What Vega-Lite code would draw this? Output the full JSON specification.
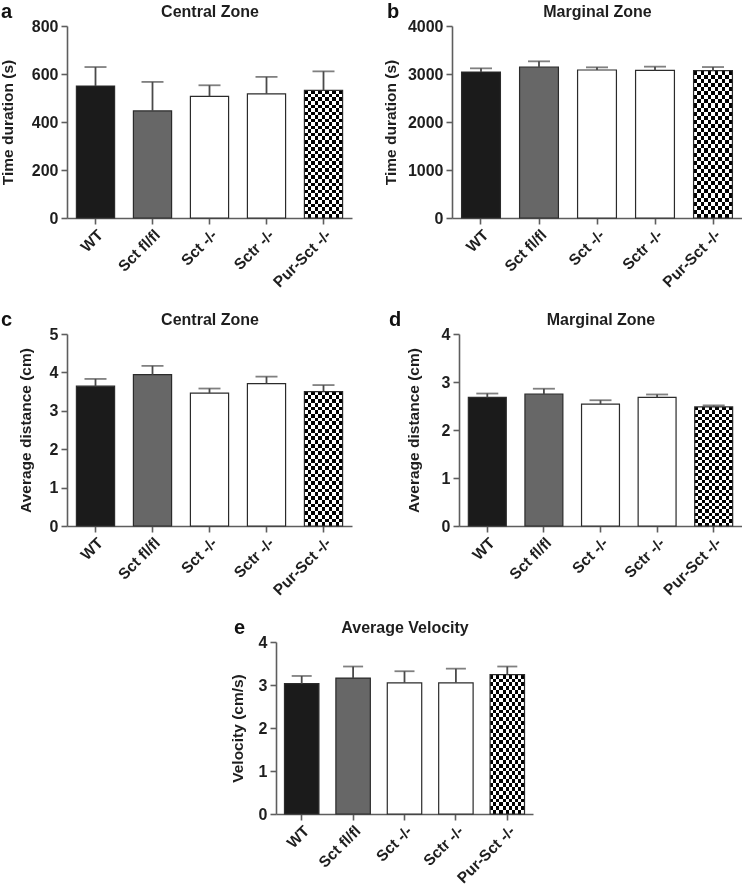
{
"$schema": "https://vega.github.io/schema/vega-lite/v6.json",
"background": "white",
"padding": {"left": 0, "top": 2, "right": 0, "bottom": 0},
"datasets": {
"a": [{"group":"WT","mean":550,"upper":629},{"group":"Sct fl/fl","mean":446,"upper":567},{"group":"Sct -/-","mean":507,"upper":553},{"group":"Sctr -/-","mean":517,"upper":588},{"group":"Pur-Sct -/-","mean":532,"upper":611}],
"b": [{"group":"WT","mean":3042,"upper":3118},{"group":"Sct fl/fl","mean":3146,"upper":3264},{"group":"Sct -/-","mean":3083,"upper":3139},{"group":"Sctr -/-","mean":3076,"upper":3153},{"group":"Pur-Sct -/-","mean":3069,"upper":3145}],
"c": [{"group":"WT","mean":3.64,"upper":3.83},{"group":"Sct fl/fl","mean":3.94,"upper":4.17},{"group":"Sct -/-","mean":3.46,"upper":3.58},{"group":"Sctr -/-","mean":3.71,"upper":3.89},{"group":"Pur-Sct -/-","mean":3.50,"upper":3.67}],
"d": [{"group":"WT","mean":2.68,"upper":2.76},{"group":"Sct fl/fl","mean":2.75,"upper":2.86},{"group":"Sct -/-","mean":2.54,"upper":2.62},{"group":"Sctr -/-","mean":2.68,"upper":2.74},{"group":"Pur-Sct -/-","mean":2.48,"upper":2.51}],
"e": [{"group":"WT","mean":3.03,"upper":3.21},{"group":"Sct fl/fl","mean":3.16,"upper":3.43},{"group":"Sct -/-","mean":3.05,"upper":3.32},{"group":"Sctr -/-","mean":3.05,"upper":3.38},{"group":"Pur-Sct -/-","mean":3.24,"upper":3.43}]
},
"spacing": 19,
"center": true,
"vconcat": [
{"spacing": 31, "hconcat": [
{
 "width": 285, "height": 192,
 "data": {"name": "a"},
 "title": {"text": "a", "dx": -66, "dy": 23},
 "encoding": {"x": {"field":"group","type":"nominal","scale":{"domain":["WT","Sct fl/fl","Sct -/-","Sctr -/-","Pur-Sct -/-"],"paddingInner":0.33,"paddingOuter":0.165},"axis":null}},
 "layer": [
  {"transform":[{"filter":"datum.group === 'Pur-Sct -/-'"}],"mark":{"type":"bar","stroke":null,"fill":{"gradient":"linear","x1":0,"y1":0,"x2":1,"y2":0,"stops":[{"offset":0,"color":"#000"},{"offset":0.0909,"color":"#000"},{"offset":0.0909,"color":"#fff"},{"offset":0.1818,"color":"#fff"},{"offset":0.1818,"color":"#000"},{"offset":0.2727,"color":"#000"},{"offset":0.2727,"color":"#fff"},{"offset":0.3636,"color":"#fff"},{"offset":0.3636,"color":"#000"},{"offset":0.4545,"color":"#000"},{"offset":0.4545,"color":"#fff"},{"offset":0.5455,"color":"#fff"},{"offset":0.5455,"color":"#000"},{"offset":0.6364,"color":"#000"},{"offset":0.6364,"color":"#fff"},{"offset":0.7273,"color":"#fff"},{"offset":0.7273,"color":"#000"},{"offset":0.8182,"color":"#000"},{"offset":0.8182,"color":"#fff"},{"offset":0.9091,"color":"#fff"},{"offset":0.9091,"color":"#000"},{"offset":1,"color":"#000"}]}},
   "encoding":{"y":{"field":"mean","type":"quantitative","scale":{"domain":[0,800],"nice":false},"axis":null}}},
  {"transform":[{"filter":"datum.group === 'Pur-Sct -/-'"}],"mark":{"type":"bar","stroke":null,"blend":"difference","fill":{"gradient":"linear","x1":0,"y1":0,"x2":0,"y2":1,"stops":[{"offset":0,"color":"#000"},{"offset":0.02778,"color":"#000"},{"offset":0.02778,"color":"#fff"},{"offset":0.05556,"color":"#fff"},{"offset":0.05556,"color":"#000"},{"offset":0.08333,"color":"#000"},{"offset":0.08333,"color":"#fff"},{"offset":0.11111,"color":"#fff"},{"offset":0.11111,"color":"#000"},{"offset":0.13889,"color":"#000"},{"offset":0.13889,"color":"#fff"},{"offset":0.16667,"color":"#fff"},{"offset":0.16667,"color":"#000"},{"offset":0.19444,"color":"#000"},{"offset":0.19444,"color":"#fff"},{"offset":0.22222,"color":"#fff"},{"offset":0.22222,"color":"#000"},{"offset":0.25,"color":"#000"},{"offset":0.25,"color":"#fff"},{"offset":0.27778,"color":"#fff"},{"offset":0.27778,"color":"#000"},{"offset":0.30556,"color":"#000"},{"offset":0.30556,"color":"#fff"},{"offset":0.33333,"color":"#fff"},{"offset":0.33333,"color":"#000"},{"offset":0.36111,"color":"#000"},{"offset":0.36111,"color":"#fff"},{"offset":0.38889,"color":"#fff"},{"offset":0.38889,"color":"#000"},{"offset":0.41667,"color":"#000"},{"offset":0.41667,"color":"#fff"},{"offset":0.44444,"color":"#fff"},{"offset":0.44444,"color":"#000"},{"offset":0.47222,"color":"#000"},{"offset":0.47222,"color":"#fff"},{"offset":0.5,"color":"#fff"},{"offset":0.5,"color":"#000"},{"offset":0.52778,"color":"#000"},{"offset":0.52778,"color":"#fff"},{"offset":0.55556,"color":"#fff"},{"offset":0.55556,"color":"#000"},{"offset":0.58333,"color":"#000"},{"offset":0.58333,"color":"#fff"},{"offset":0.61111,"color":"#fff"},{"offset":0.61111,"color":"#000"},{"offset":0.63889,"color":"#000"},{"offset":0.63889,"color":"#fff"},{"offset":0.66667,"color":"#fff"},{"offset":0.66667,"color":"#000"},{"offset":0.69444,"color":"#000"},{"offset":0.69444,"color":"#fff"},{"offset":0.72222,"color":"#fff"},{"offset":0.72222,"color":"#000"},{"offset":0.75,"color":"#000"},{"offset":0.75,"color":"#fff"},{"offset":0.77778,"color":"#fff"},{"offset":0.77778,"color":"#000"},{"offset":0.80556,"color":"#000"},{"offset":0.80556,"color":"#fff"},{"offset":0.83333,"color":"#fff"},{"offset":0.83333,"color":"#000"},{"offset":0.86111,"color":"#000"},{"offset":0.86111,"color":"#fff"},{"offset":0.88889,"color":"#fff"},{"offset":0.88889,"color":"#000"},{"offset":0.91667,"color":"#000"},{"offset":0.91667,"color":"#fff"},{"offset":0.94444,"color":"#fff"},{"offset":0.94444,"color":"#000"},{"offset":0.97222,"color":"#000"},{"offset":0.97222,"color":"#fff"},{"offset":1,"color":"#fff"}]}},
   "encoding":{"y":{"field":"mean","type":"quantitative","scale":{"domain":[0,800],"nice":false},"axis":null}}},
  {"mark":{"type":"bar","stroke":"#2b2b2b","strokeWidth":1.2},"encoding":{
    "x":{"field":"group","type":"nominal","scale":{"domain":["WT","Sct fl/fl","Sct -/-","Sctr -/-","Pur-Sct -/-"],"paddingInner":0.33,"paddingOuter":0.165},"axis":{"title":null,"labelAngle":-45,"labelAlign":"right","labelBaseline":"top","labelPadding":3,"labelFontSize":15.5}},
    "y":{"field":"mean","type":"quantitative","scale":{"domain":[0,800],"nice":false},"axis":{"title":"Time duration (s)","values":[0,200,400,600,800],"titlePadding":16,"labelFlush":false,"format":"d"}},
    "fill":{"field":"group","type":"nominal","scale":{"domain":["WT","Sct fl/fl","Sct -/-","Sctr -/-","Pur-Sct -/-"],"range":["#1b1b1b","#676767","#ffffff","#ffffff","transparent"]},"legend":null}}},
  {"mark":{"type":"rule","color":"#4a4a4a","strokeWidth":1.8},"encoding":{"y":{"field":"mean","type":"quantitative","scale":{"domain":[0,800],"nice":false},"axis":null},"y2":{"field":"upper"}}},
  {"mark":{"type":"tick","color":"#4a4a4a","thickness":1.8,"size":22},"encoding":{
    "x":{"field":"group","type":"nominal","scale":{"domain":["WT","Sct fl/fl","Sct -/-","Sctr -/-","Pur-Sct -/-"],"paddingInner":0.33,"paddingOuter":0.165},"axis":{"orient":"top","title":"Central Zone","domain":false,"ticks":false,"labels":false,"titlePadding":10,"titleFontSize":16,"titleBaseline":"alphabetic","minExtent":0,"maxExtent":0}},
    "y":{"field":"upper","type":"quantitative","scale":{"domain":[0,800],"nice":false},"axis":null}}}
 ],
 "resolve":{"axis":{"x":"independent","y":"independent"}}
},
{
 "width": 290, "height": 192,
 "data": {"name": "b"},
 "title": {"text": "b", "dx": -65, "dy": 23},
 "encoding": {"x": {"field":"group","type":"nominal","scale":{"domain":["WT","Sct fl/fl","Sct -/-","Sctr -/-","Pur-Sct -/-"],"paddingInner":0.33,"paddingOuter":0.165},"axis":null}},
 "layer": [
  {"transform":[{"filter":"datum.group === 'Pur-Sct -/-'"}],"mark":{"type":"bar","stroke":null,"fill":{"gradient":"linear","x1":0,"y1":0,"x2":1,"y2":0,"stops":[{"offset":0,"color":"#000"},{"offset":0.0909,"color":"#000"},{"offset":0.0909,"color":"#fff"},{"offset":0.1818,"color":"#fff"},{"offset":0.1818,"color":"#000"},{"offset":0.2727,"color":"#000"},{"offset":0.2727,"color":"#fff"},{"offset":0.3636,"color":"#fff"},{"offset":0.3636,"color":"#000"},{"offset":0.4545,"color":"#000"},{"offset":0.4545,"color":"#fff"},{"offset":0.5455,"color":"#fff"},{"offset":0.5455,"color":"#000"},{"offset":0.6364,"color":"#000"},{"offset":0.6364,"color":"#fff"},{"offset":0.7273,"color":"#fff"},{"offset":0.7273,"color":"#000"},{"offset":0.8182,"color":"#000"},{"offset":0.8182,"color":"#fff"},{"offset":0.9091,"color":"#fff"},{"offset":0.9091,"color":"#000"},{"offset":1,"color":"#000"}]}},
   "encoding":{"y":{"field":"mean","type":"quantitative","scale":{"domain":[0,4000],"nice":false},"axis":null}}},
  {"transform":[{"filter":"datum.group === 'Pur-Sct -/-'"}],"mark":{"type":"bar","stroke":null,"blend":"difference","fill":{"gradient":"linear","x1":0,"y1":0,"x2":0,"y2":1,"stops":[{"offset":0,"color":"#000"},{"offset":0.02778,"color":"#000"},{"offset":0.02778,"color":"#fff"},{"offset":0.05556,"color":"#fff"},{"offset":0.05556,"color":"#000"},{"offset":0.08333,"color":"#000"},{"offset":0.08333,"color":"#fff"},{"offset":0.11111,"color":"#fff"},{"offset":0.11111,"color":"#000"},{"offset":0.13889,"color":"#000"},{"offset":0.13889,"color":"#fff"},{"offset":0.16667,"color":"#fff"},{"offset":0.16667,"color":"#000"},{"offset":0.19444,"color":"#000"},{"offset":0.19444,"color":"#fff"},{"offset":0.22222,"color":"#fff"},{"offset":0.22222,"color":"#000"},{"offset":0.25,"color":"#000"},{"offset":0.25,"color":"#fff"},{"offset":0.27778,"color":"#fff"},{"offset":0.27778,"color":"#000"},{"offset":0.30556,"color":"#000"},{"offset":0.30556,"color":"#fff"},{"offset":0.33333,"color":"#fff"},{"offset":0.33333,"color":"#000"},{"offset":0.36111,"color":"#000"},{"offset":0.36111,"color":"#fff"},{"offset":0.38889,"color":"#fff"},{"offset":0.38889,"color":"#000"},{"offset":0.41667,"color":"#000"},{"offset":0.41667,"color":"#fff"},{"offset":0.44444,"color":"#fff"},{"offset":0.44444,"color":"#000"},{"offset":0.47222,"color":"#000"},{"offset":0.47222,"color":"#fff"},{"offset":0.5,"color":"#fff"},{"offset":0.5,"color":"#000"},{"offset":0.52778,"color":"#000"},{"offset":0.52778,"color":"#fff"},{"offset":0.55556,"color":"#fff"},{"offset":0.55556,"color":"#000"},{"offset":0.58333,"color":"#000"},{"offset":0.58333,"color":"#fff"},{"offset":0.61111,"color":"#fff"},{"offset":0.61111,"color":"#000"},{"offset":0.63889,"color":"#000"},{"offset":0.63889,"color":"#fff"},{"offset":0.66667,"color":"#fff"},{"offset":0.66667,"color":"#000"},{"offset":0.69444,"color":"#000"},{"offset":0.69444,"color":"#fff"},{"offset":0.72222,"color":"#fff"},{"offset":0.72222,"color":"#000"},{"offset":0.75,"color":"#000"},{"offset":0.75,"color":"#fff"},{"offset":0.77778,"color":"#fff"},{"offset":0.77778,"color":"#000"},{"offset":0.80556,"color":"#000"},{"offset":0.80556,"color":"#fff"},{"offset":0.83333,"color":"#fff"},{"offset":0.83333,"color":"#000"},{"offset":0.86111,"color":"#000"},{"offset":0.86111,"color":"#fff"},{"offset":0.88889,"color":"#fff"},{"offset":0.88889,"color":"#000"},{"offset":0.91667,"color":"#000"},{"offset":0.91667,"color":"#fff"},{"offset":0.94444,"color":"#fff"},{"offset":0.94444,"color":"#000"},{"offset":0.97222,"color":"#000"},{"offset":0.97222,"color":"#fff"},{"offset":1,"color":"#fff"}]}},
   "encoding":{"y":{"field":"mean","type":"quantitative","scale":{"domain":[0,4000],"nice":false},"axis":null}}},
  {"mark":{"type":"bar","stroke":"#2b2b2b","strokeWidth":1.2},"encoding":{
    "x":{"field":"group","type":"nominal","scale":{"domain":["WT","Sct fl/fl","Sct -/-","Sctr -/-","Pur-Sct -/-"],"paddingInner":0.33,"paddingOuter":0.165},"axis":{"title":null,"labelAngle":-45,"labelAlign":"right","labelBaseline":"top","labelPadding":3,"labelFontSize":15.5}},
    "y":{"field":"mean","type":"quantitative","scale":{"domain":[0,4000],"nice":false},"axis":{"title":"Time duration (s)","values":[0,1000,2000,3000,4000],"titlePadding":8.5,"labelFlush":false,"format":"d"}},
    "fill":{"field":"group","type":"nominal","scale":{"domain":["WT","Sct fl/fl","Sct -/-","Sctr -/-","Pur-Sct -/-"],"range":["#1b1b1b","#676767","#ffffff","#ffffff","transparent"]},"legend":null}}},
  {"mark":{"type":"rule","color":"#4a4a4a","strokeWidth":1.8},"encoding":{"y":{"field":"mean","type":"quantitative","scale":{"domain":[0,4000],"nice":false},"axis":null},"y2":{"field":"upper"}}},
  {"mark":{"type":"tick","color":"#4a4a4a","thickness":1.8,"size":22},"encoding":{
    "x":{"field":"group","type":"nominal","scale":{"domain":["WT","Sct fl/fl","Sct -/-","Sctr -/-","Pur-Sct -/-"],"paddingInner":0.33,"paddingOuter":0.165},"axis":{"orient":"top","title":"Marginal Zone","domain":false,"ticks":false,"labels":false,"titlePadding":10,"titleFontSize":16,"titleBaseline":"alphabetic","minExtent":0,"maxExtent":0}},
    "y":{"field":"upper","type":"quantitative","scale":{"domain":[0,4000],"nice":false},"axis":null}}}
 ],
 "resolve":{"axis":{"x":"independent","y":"independent"}}
}
]},
{"spacing": 37, "hconcat": [
{
 "width": 285, "height": 192,
 "data": {"name": "c"},
 "title": {"text": "c", "dx": -66, "dy": 23},
 "encoding": {"x": {"field":"group","type":"nominal","scale":{"domain":["WT","Sct fl/fl","Sct -/-","Sctr -/-","Pur-Sct -/-"],"paddingInner":0.33,"paddingOuter":0.165},"axis":null}},
 "layer": [
  {"transform":[{"filter":"datum.group === 'Pur-Sct -/-'"}],"mark":{"type":"bar","stroke":null,"fill":{"gradient":"linear","x1":0,"y1":0,"x2":1,"y2":0,"stops":[{"offset":0,"color":"#000"},{"offset":0.0909,"color":"#000"},{"offset":0.0909,"color":"#fff"},{"offset":0.1818,"color":"#fff"},{"offset":0.1818,"color":"#000"},{"offset":0.2727,"color":"#000"},{"offset":0.2727,"color":"#fff"},{"offset":0.3636,"color":"#fff"},{"offset":0.3636,"color":"#000"},{"offset":0.4545,"color":"#000"},{"offset":0.4545,"color":"#fff"},{"offset":0.5455,"color":"#fff"},{"offset":0.5455,"color":"#000"},{"offset":0.6364,"color":"#000"},{"offset":0.6364,"color":"#fff"},{"offset":0.7273,"color":"#fff"},{"offset":0.7273,"color":"#000"},{"offset":0.8182,"color":"#000"},{"offset":0.8182,"color":"#fff"},{"offset":0.9091,"color":"#fff"},{"offset":0.9091,"color":"#000"},{"offset":1,"color":"#000"}]}},
   "encoding":{"y":{"field":"mean","type":"quantitative","scale":{"domain":[0,5],"nice":false},"axis":null}}},
  {"transform":[{"filter":"datum.group === 'Pur-Sct -/-'"}],"mark":{"type":"bar","stroke":null,"blend":"difference","fill":{"gradient":"linear","x1":0,"y1":0,"x2":0,"y2":1,"stops":[{"offset":0,"color":"#000"},{"offset":0.02778,"color":"#000"},{"offset":0.02778,"color":"#fff"},{"offset":0.05556,"color":"#fff"},{"offset":0.05556,"color":"#000"},{"offset":0.08333,"color":"#000"},{"offset":0.08333,"color":"#fff"},{"offset":0.11111,"color":"#fff"},{"offset":0.11111,"color":"#000"},{"offset":0.13889,"color":"#000"},{"offset":0.13889,"color":"#fff"},{"offset":0.16667,"color":"#fff"},{"offset":0.16667,"color":"#000"},{"offset":0.19444,"color":"#000"},{"offset":0.19444,"color":"#fff"},{"offset":0.22222,"color":"#fff"},{"offset":0.22222,"color":"#000"},{"offset":0.25,"color":"#000"},{"offset":0.25,"color":"#fff"},{"offset":0.27778,"color":"#fff"},{"offset":0.27778,"color":"#000"},{"offset":0.30556,"color":"#000"},{"offset":0.30556,"color":"#fff"},{"offset":0.33333,"color":"#fff"},{"offset":0.33333,"color":"#000"},{"offset":0.36111,"color":"#000"},{"offset":0.36111,"color":"#fff"},{"offset":0.38889,"color":"#fff"},{"offset":0.38889,"color":"#000"},{"offset":0.41667,"color":"#000"},{"offset":0.41667,"color":"#fff"},{"offset":0.44444,"color":"#fff"},{"offset":0.44444,"color":"#000"},{"offset":0.47222,"color":"#000"},{"offset":0.47222,"color":"#fff"},{"offset":0.5,"color":"#fff"},{"offset":0.5,"color":"#000"},{"offset":0.52778,"color":"#000"},{"offset":0.52778,"color":"#fff"},{"offset":0.55556,"color":"#fff"},{"offset":0.55556,"color":"#000"},{"offset":0.58333,"color":"#000"},{"offset":0.58333,"color":"#fff"},{"offset":0.61111,"color":"#fff"},{"offset":0.61111,"color":"#000"},{"offset":0.63889,"color":"#000"},{"offset":0.63889,"color":"#fff"},{"offset":0.66667,"color":"#fff"},{"offset":0.66667,"color":"#000"},{"offset":0.69444,"color":"#000"},{"offset":0.69444,"color":"#fff"},{"offset":0.72222,"color":"#fff"},{"offset":0.72222,"color":"#000"},{"offset":0.75,"color":"#000"},{"offset":0.75,"color":"#fff"},{"offset":0.77778,"color":"#fff"},{"offset":0.77778,"color":"#000"},{"offset":0.80556,"color":"#000"},{"offset":0.80556,"color":"#fff"},{"offset":0.83333,"color":"#fff"},{"offset":0.83333,"color":"#000"},{"offset":0.86111,"color":"#000"},{"offset":0.86111,"color":"#fff"},{"offset":0.88889,"color":"#fff"},{"offset":0.88889,"color":"#000"},{"offset":0.91667,"color":"#000"},{"offset":0.91667,"color":"#fff"},{"offset":0.94444,"color":"#fff"},{"offset":0.94444,"color":"#000"},{"offset":0.97222,"color":"#000"},{"offset":0.97222,"color":"#fff"},{"offset":1,"color":"#fff"}]}},
   "encoding":{"y":{"field":"mean","type":"quantitative","scale":{"domain":[0,5],"nice":false},"axis":null}}},
  {"mark":{"type":"bar","stroke":"#2b2b2b","strokeWidth":1.2},"encoding":{
    "x":{"field":"group","type":"nominal","scale":{"domain":["WT","Sct fl/fl","Sct -/-","Sctr -/-","Pur-Sct -/-"],"paddingInner":0.33,"paddingOuter":0.165},"axis":{"title":null,"labelAngle":-45,"labelAlign":"right","labelBaseline":"top","labelPadding":3,"labelFontSize":15.5}},
    "y":{"field":"mean","type":"quantitative","scale":{"domain":[0,5],"nice":false},"axis":{"title":"Average distance (cm)","values":[0,1,2,3,4,5],"titlePadding":16,"labelFlush":false,"format":"d"}},
    "fill":{"field":"group","type":"nominal","scale":{"domain":["WT","Sct fl/fl","Sct -/-","Sctr -/-","Pur-Sct -/-"],"range":["#1b1b1b","#676767","#ffffff","#ffffff","transparent"]},"legend":null}}},
  {"mark":{"type":"rule","color":"#4a4a4a","strokeWidth":1.8},"encoding":{"y":{"field":"mean","type":"quantitative","scale":{"domain":[0,5],"nice":false},"axis":null},"y2":{"field":"upper"}}},
  {"mark":{"type":"tick","color":"#4a4a4a","thickness":1.8,"size":22},"encoding":{
    "x":{"field":"group","type":"nominal","scale":{"domain":["WT","Sct fl/fl","Sct -/-","Sctr -/-","Pur-Sct -/-"],"paddingInner":0.33,"paddingOuter":0.165},"axis":{"orient":"top","title":"Central Zone","domain":false,"ticks":false,"labels":false,"titlePadding":10,"titleFontSize":16,"titleBaseline":"alphabetic","minExtent":0,"maxExtent":0}},
    "y":{"field":"upper","type":"quantitative","scale":{"domain":[0,5],"nice":false},"axis":null}}}
 ],
 "resolve":{"axis":{"x":"independent","y":"independent"}}
},
{
 "width": 283, "height": 192,
 "data": {"name": "d"},
 "title": {"text": "d", "dx": -70, "dy": 23},
 "encoding": {"x": {"field":"group","type":"nominal","scale":{"domain":["WT","Sct fl/fl","Sct -/-","Sctr -/-","Pur-Sct -/-"],"paddingInner":0.33,"paddingOuter":0.165},"axis":null}},
 "layer": [
  {"transform":[{"filter":"datum.group === 'Pur-Sct -/-'"}],"mark":{"type":"bar","stroke":null,"fill":{"gradient":"linear","x1":0,"y1":0,"x2":1,"y2":0,"stops":[{"offset":0,"color":"#000"},{"offset":0.0909,"color":"#000"},{"offset":0.0909,"color":"#fff"},{"offset":0.1818,"color":"#fff"},{"offset":0.1818,"color":"#000"},{"offset":0.2727,"color":"#000"},{"offset":0.2727,"color":"#fff"},{"offset":0.3636,"color":"#fff"},{"offset":0.3636,"color":"#000"},{"offset":0.4545,"color":"#000"},{"offset":0.4545,"color":"#fff"},{"offset":0.5455,"color":"#fff"},{"offset":0.5455,"color":"#000"},{"offset":0.6364,"color":"#000"},{"offset":0.6364,"color":"#fff"},{"offset":0.7273,"color":"#fff"},{"offset":0.7273,"color":"#000"},{"offset":0.8182,"color":"#000"},{"offset":0.8182,"color":"#fff"},{"offset":0.9091,"color":"#fff"},{"offset":0.9091,"color":"#000"},{"offset":1,"color":"#000"}]}},
   "encoding":{"y":{"field":"mean","type":"quantitative","scale":{"domain":[0,4],"nice":false},"axis":null}}},
  {"transform":[{"filter":"datum.group === 'Pur-Sct -/-'"}],"mark":{"type":"bar","stroke":null,"blend":"difference","fill":{"gradient":"linear","x1":0,"y1":0,"x2":0,"y2":1,"stops":[{"offset":0,"color":"#000"},{"offset":0.02778,"color":"#000"},{"offset":0.02778,"color":"#fff"},{"offset":0.05556,"color":"#fff"},{"offset":0.05556,"color":"#000"},{"offset":0.08333,"color":"#000"},{"offset":0.08333,"color":"#fff"},{"offset":0.11111,"color":"#fff"},{"offset":0.11111,"color":"#000"},{"offset":0.13889,"color":"#000"},{"offset":0.13889,"color":"#fff"},{"offset":0.16667,"color":"#fff"},{"offset":0.16667,"color":"#000"},{"offset":0.19444,"color":"#000"},{"offset":0.19444,"color":"#fff"},{"offset":0.22222,"color":"#fff"},{"offset":0.22222,"color":"#000"},{"offset":0.25,"color":"#000"},{"offset":0.25,"color":"#fff"},{"offset":0.27778,"color":"#fff"},{"offset":0.27778,"color":"#000"},{"offset":0.30556,"color":"#000"},{"offset":0.30556,"color":"#fff"},{"offset":0.33333,"color":"#fff"},{"offset":0.33333,"color":"#000"},{"offset":0.36111,"color":"#000"},{"offset":0.36111,"color":"#fff"},{"offset":0.38889,"color":"#fff"},{"offset":0.38889,"color":"#000"},{"offset":0.41667,"color":"#000"},{"offset":0.41667,"color":"#fff"},{"offset":0.44444,"color":"#fff"},{"offset":0.44444,"color":"#000"},{"offset":0.47222,"color":"#000"},{"offset":0.47222,"color":"#fff"},{"offset":0.5,"color":"#fff"},{"offset":0.5,"color":"#000"},{"offset":0.52778,"color":"#000"},{"offset":0.52778,"color":"#fff"},{"offset":0.55556,"color":"#fff"},{"offset":0.55556,"color":"#000"},{"offset":0.58333,"color":"#000"},{"offset":0.58333,"color":"#fff"},{"offset":0.61111,"color":"#fff"},{"offset":0.61111,"color":"#000"},{"offset":0.63889,"color":"#000"},{"offset":0.63889,"color":"#fff"},{"offset":0.66667,"color":"#fff"},{"offset":0.66667,"color":"#000"},{"offset":0.69444,"color":"#000"},{"offset":0.69444,"color":"#fff"},{"offset":0.72222,"color":"#fff"},{"offset":0.72222,"color":"#000"},{"offset":0.75,"color":"#000"},{"offset":0.75,"color":"#fff"},{"offset":0.77778,"color":"#fff"},{"offset":0.77778,"color":"#000"},{"offset":0.80556,"color":"#000"},{"offset":0.80556,"color":"#fff"},{"offset":0.83333,"color":"#fff"},{"offset":0.83333,"color":"#000"},{"offset":0.86111,"color":"#000"},{"offset":0.86111,"color":"#fff"},{"offset":0.88889,"color":"#fff"},{"offset":0.88889,"color":"#000"},{"offset":0.91667,"color":"#000"},{"offset":0.91667,"color":"#fff"},{"offset":0.94444,"color":"#fff"},{"offset":0.94444,"color":"#000"},{"offset":0.97222,"color":"#000"},{"offset":0.97222,"color":"#fff"},{"offset":1,"color":"#fff"}]}},
   "encoding":{"y":{"field":"mean","type":"quantitative","scale":{"domain":[0,4],"nice":false},"axis":null}}},
  {"mark":{"type":"bar","stroke":"#2b2b2b","strokeWidth":1.2},"encoding":{
    "x":{"field":"group","type":"nominal","scale":{"domain":["WT","Sct fl/fl","Sct -/-","Sctr -/-","Pur-Sct -/-"],"paddingInner":0.33,"paddingOuter":0.165},"axis":{"title":null,"labelAngle":-45,"labelAlign":"right","labelBaseline":"top","labelPadding":3,"labelFontSize":15.5}},
    "y":{"field":"mean","type":"quantitative","scale":{"domain":[0,4],"nice":false},"axis":{"title":"Average distance (cm)","values":[0,1,2,3,4],"titlePadding":20,"labelFlush":false,"format":"d"}},
    "fill":{"field":"group","type":"nominal","scale":{"domain":["WT","Sct fl/fl","Sct -/-","Sctr -/-","Pur-Sct -/-"],"range":["#1b1b1b","#676767","#ffffff","#ffffff","transparent"]},"legend":null}}},
  {"mark":{"type":"rule","color":"#4a4a4a","strokeWidth":1.8},"encoding":{"y":{"field":"mean","type":"quantitative","scale":{"domain":[0,4],"nice":false},"axis":null},"y2":{"field":"upper"}}},
  {"mark":{"type":"tick","color":"#4a4a4a","thickness":1.8,"size":22},"encoding":{
    "x":{"field":"group","type":"nominal","scale":{"domain":["WT","Sct fl/fl","Sct -/-","Sctr -/-","Pur-Sct -/-"],"paddingInner":0.33,"paddingOuter":0.165},"axis":{"orient":"top","title":"Marginal Zone","domain":false,"ticks":false,"labels":false,"titlePadding":10,"titleFontSize":16,"titleBaseline":"alphabetic","minExtent":0,"maxExtent":0}},
    "y":{"field":"upper","type":"quantitative","scale":{"domain":[0,4],"nice":false},"axis":null}}}
 ],
 "resolve":{"axis":{"x":"independent","y":"independent"}}
}
]},
{
 "width": 257, "height": 172,
 "data": {"name": "e"},
 "title": {"text": "e", "dx": -42, "dy": 23},
 "encoding": {"x": {"field":"group","type":"nominal","scale":{"domain":["WT","Sct fl/fl","Sct -/-","Sctr -/-","Pur-Sct -/-"],"paddingInner":0.33,"paddingOuter":0.165},"axis":null}},
 "layer": [
  {"transform":[{"filter":"datum.group === 'Pur-Sct -/-'"}],"mark":{"type":"bar","stroke":null,"fill":{"gradient":"linear","x1":0,"y1":0,"x2":1,"y2":0,"stops":[{"offset":0,"color":"#000"},{"offset":0.0909,"color":"#000"},{"offset":0.0909,"color":"#fff"},{"offset":0.1818,"color":"#fff"},{"offset":0.1818,"color":"#000"},{"offset":0.2727,"color":"#000"},{"offset":0.2727,"color":"#fff"},{"offset":0.3636,"color":"#fff"},{"offset":0.3636,"color":"#000"},{"offset":0.4545,"color":"#000"},{"offset":0.4545,"color":"#fff"},{"offset":0.5455,"color":"#fff"},{"offset":0.5455,"color":"#000"},{"offset":0.6364,"color":"#000"},{"offset":0.6364,"color":"#fff"},{"offset":0.7273,"color":"#fff"},{"offset":0.7273,"color":"#000"},{"offset":0.8182,"color":"#000"},{"offset":0.8182,"color":"#fff"},{"offset":0.9091,"color":"#fff"},{"offset":0.9091,"color":"#000"},{"offset":1,"color":"#000"}]}},
   "encoding":{"y":{"field":"mean","type":"quantitative","scale":{"domain":[0,4],"nice":false},"axis":null}}},
  {"transform":[{"filter":"datum.group === 'Pur-Sct -/-'"}],"mark":{"type":"bar","stroke":null,"blend":"difference","fill":{"gradient":"linear","x1":0,"y1":0,"x2":0,"y2":1,"stops":[{"offset":0,"color":"#000"},{"offset":0.02778,"color":"#000"},{"offset":0.02778,"color":"#fff"},{"offset":0.05556,"color":"#fff"},{"offset":0.05556,"color":"#000"},{"offset":0.08333,"color":"#000"},{"offset":0.08333,"color":"#fff"},{"offset":0.11111,"color":"#fff"},{"offset":0.11111,"color":"#000"},{"offset":0.13889,"color":"#000"},{"offset":0.13889,"color":"#fff"},{"offset":0.16667,"color":"#fff"},{"offset":0.16667,"color":"#000"},{"offset":0.19444,"color":"#000"},{"offset":0.19444,"color":"#fff"},{"offset":0.22222,"color":"#fff"},{"offset":0.22222,"color":"#000"},{"offset":0.25,"color":"#000"},{"offset":0.25,"color":"#fff"},{"offset":0.27778,"color":"#fff"},{"offset":0.27778,"color":"#000"},{"offset":0.30556,"color":"#000"},{"offset":0.30556,"color":"#fff"},{"offset":0.33333,"color":"#fff"},{"offset":0.33333,"color":"#000"},{"offset":0.36111,"color":"#000"},{"offset":0.36111,"color":"#fff"},{"offset":0.38889,"color":"#fff"},{"offset":0.38889,"color":"#000"},{"offset":0.41667,"color":"#000"},{"offset":0.41667,"color":"#fff"},{"offset":0.44444,"color":"#fff"},{"offset":0.44444,"color":"#000"},{"offset":0.47222,"color":"#000"},{"offset":0.47222,"color":"#fff"},{"offset":0.5,"color":"#fff"},{"offset":0.5,"color":"#000"},{"offset":0.52778,"color":"#000"},{"offset":0.52778,"color":"#fff"},{"offset":0.55556,"color":"#fff"},{"offset":0.55556,"color":"#000"},{"offset":0.58333,"color":"#000"},{"offset":0.58333,"color":"#fff"},{"offset":0.61111,"color":"#fff"},{"offset":0.61111,"color":"#000"},{"offset":0.63889,"color":"#000"},{"offset":0.63889,"color":"#fff"},{"offset":0.66667,"color":"#fff"},{"offset":0.66667,"color":"#000"},{"offset":0.69444,"color":"#000"},{"offset":0.69444,"color":"#fff"},{"offset":0.72222,"color":"#fff"},{"offset":0.72222,"color":"#000"},{"offset":0.75,"color":"#000"},{"offset":0.75,"color":"#fff"},{"offset":0.77778,"color":"#fff"},{"offset":0.77778,"color":"#000"},{"offset":0.80556,"color":"#000"},{"offset":0.80556,"color":"#fff"},{"offset":0.83333,"color":"#fff"},{"offset":0.83333,"color":"#000"},{"offset":0.86111,"color":"#000"},{"offset":0.86111,"color":"#fff"},{"offset":0.88889,"color":"#fff"},{"offset":0.88889,"color":"#000"},{"offset":0.91667,"color":"#000"},{"offset":0.91667,"color":"#fff"},{"offset":0.94444,"color":"#fff"},{"offset":0.94444,"color":"#000"},{"offset":0.97222,"color":"#000"},{"offset":0.97222,"color":"#fff"},{"offset":1,"color":"#fff"}]}},
   "encoding":{"y":{"field":"mean","type":"quantitative","scale":{"domain":[0,4],"nice":false},"axis":null}}},
  {"mark":{"type":"bar","stroke":"#2b2b2b","strokeWidth":1.2},"encoding":{
    "x":{"field":"group","type":"nominal","scale":{"domain":["WT","Sct fl/fl","Sct -/-","Sctr -/-","Pur-Sct -/-"],"paddingInner":0.33,"paddingOuter":0.165},"axis":{"title":null,"labelAngle":-45,"labelAlign":"right","labelBaseline":"top","labelPadding":3,"labelFontSize":15.5}},
    "y":{"field":"mean","type":"quantitative","scale":{"domain":[0,4],"nice":false},"axis":{"title":"Velocity (cm/s)","values":[0,1,2,3,4],"titlePadding":13,"labelFlush":false,"format":"d"}},
    "fill":{"field":"group","type":"nominal","scale":{"domain":["WT","Sct fl/fl","Sct -/-","Sctr -/-","Pur-Sct -/-"],"range":["#1b1b1b","#676767","#ffffff","#ffffff","transparent"]},"legend":null}}},
  {"mark":{"type":"rule","color":"#4a4a4a","strokeWidth":1.8},"encoding":{"y":{"field":"mean","type":"quantitative","scale":{"domain":[0,4],"nice":false},"axis":null},"y2":{"field":"upper"}}},
  {"mark":{"type":"tick","color":"#4a4a4a","thickness":1.8,"size":20},"encoding":{
    "x":{"field":"group","type":"nominal","scale":{"domain":["WT","Sct fl/fl","Sct -/-","Sctr -/-","Pur-Sct -/-"],"paddingInner":0.33,"paddingOuter":0.165},"axis":{"orient":"top","title":"Average Velocity","domain":false,"ticks":false,"labels":false,"titlePadding":10,"titleFontSize":16,"titleBaseline":"alphabetic","minExtent":0,"maxExtent":0}},
    "y":{"field":"upper","type":"quantitative","scale":{"domain":[0,4],"nice":false},"axis":null}}}
 ],
 "resolve":{"axis":{"x":"independent","y":"independent"}}
}
],
"config": {
 "view": {"stroke": null},
 "font": "Liberation Sans",
 "title": {"anchor": "start", "frame": "group", "font": "Liberation Sans", "fontSize": 20, "fontWeight": "bold", "color": "#111111", "offset": 0, "baseline": "alphabetic"},
 "axis": {"grid": false, "domainColor": "#5e5e5e", "domainWidth": 1.6, "tickColor": "#5e5e5e", "tickWidth": 1.6, "tickSize": 6, "labelFont": "Liberation Sans", "labelFontSize": 16, "labelFontWeight": "bold", "labelColor": "#1e1e1e", "labelPadding": 3, "titleFont": "Liberation Sans", "titleFontSize": 15.5, "titleFontWeight": "bold", "titleColor": "#1e1e1e"}
}
}
